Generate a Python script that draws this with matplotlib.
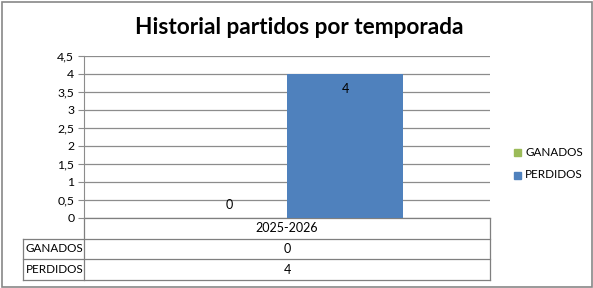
import matplotlib
matplotlib.use("Agg")
import matplotlib.pyplot as plt
from matplotlib.patches import Rectangle

categories = ["2025-2026"]
series_names = ["GANADOS", "PERDIDOS"]
ganados = [0]
perdidos = [4]
colors = ["#9BBB59", "#4F81BD"]
yticks = [0, 0.5, 1, 1.5, 2, 2.5, 3, 3.5, 4, 4.5]
ytick_labels = ["0", "0,5", "1", "1,5", "2", "2,5", "3", "3,5", "4", "4,5"]
title = "Historial partidos por temporada"

FONT = ["Lato", "DejaVu Sans"]
plt.rcParams["font.family"] = FONT
FS = 8.4

W, H = 593, 288
fig = plt.figure(figsize=(W / 100, H / 100), dpi=100)

# overlay in pixel coordinates
ov = fig.add_axes([0, 0, 1, 1])
ov.set_xlim(0, W)
ov.set_ylim(H, 0)
ov.axis("off")
ov.add_patch(Rectangle((1.5, 1.5), W - 3, H - 3, fill=False, edgecolor="#888888", lw=1.2))

L, R, T, B = 84, 490, 56, 218
ax = fig.add_axes([L / W, 1 - B / H, (R - L) / W, (B - T) / H])
ax.set_zorder(2)
ax.patch.set_alpha(0)

w = 1 / 3.5
x = list(range(len(categories)))
data = [ganados, perdidos]
offsets = [-w / 2, w / 2]
for vals, off, c, name in zip(data, offsets, colors, series_names):
    pos = [xi + off for xi in x]
    ax.bar(pos, vals, width=w, color=c, label=name, zorder=3)
    for p, v in zip(pos, vals):
        if v > 0:
            ax.text(p, v - 0.42, f"{v:g}", ha="center", va="center", fontsize=9, zorder=4)
        else:
            ax.text(p, v + 0.37, f"{v:g}", ha="center", va="center", fontsize=9, zorder=4)

ax.set_xlim(-0.5, len(categories) - 0.5)
ax.set_ylim(0, 4.5)
ax.set_yticks(yticks)
ax.set_yticklabels(ytick_labels, fontsize=8.8)
ax.set_xticks([])
ax.grid(axis="y", color="#8C8C8C", lw=0.9, zorder=0)
for s in ["top", "right", "bottom"]:
    ax.spines[s].set_visible(False)
ax.spines["left"].set_color("#8C8C8C")
ax.tick_params(axis="y", length=4, color="#8C8C8C", pad=3)

# title
ov.text(299, 27, title, ha="center", va="center", fontsize=16.3, fontweight="bold")

# data table
rows = [218, 239, 259, 280]
LC = 23
lc = "#7F7F7F"
ov.plot([L, R], [rows[0], rows[0]], color=lc, lw=0.9)
for yv in rows[1:]:
    ov.plot([LC, R], [yv, yv], color=lc, lw=0.9)
ov.plot([L, L], [rows[0], rows[-1]], color=lc, lw=0.9)
ov.plot([R, R], [rows[0], rows[-1]], color=lc, lw=0.9)
ov.plot([LC, LC], [rows[1], rows[-1]], color=lc, lw=0.9)
cx = (L + R) / 2
ov.text(cx, (rows[0] + rows[1]) / 2, categories[0], ha="center", va="center", fontsize=9)
for i, (name, vals) in enumerate(zip(series_names, data)):
    yc = (rows[i + 1] + rows[i + 2]) / 2
    ov.text(LC + 3, yc, name, ha="left", va="center", fontsize=FS)
    ov.text(cx, yc, f"{vals[0]:g}", ha="center", va="center", fontsize=9)

# legend
for i, (name, c) in enumerate(zip(series_names, colors)):
    yc = 152 + i * 23
    ov.add_patch(Rectangle((514, yc - 3.5), 7, 7, color=c))
    ov.text(525, yc, name, ha="left", va="center", fontsize=FS)

fig.savefig("out.png", dpi=100)
